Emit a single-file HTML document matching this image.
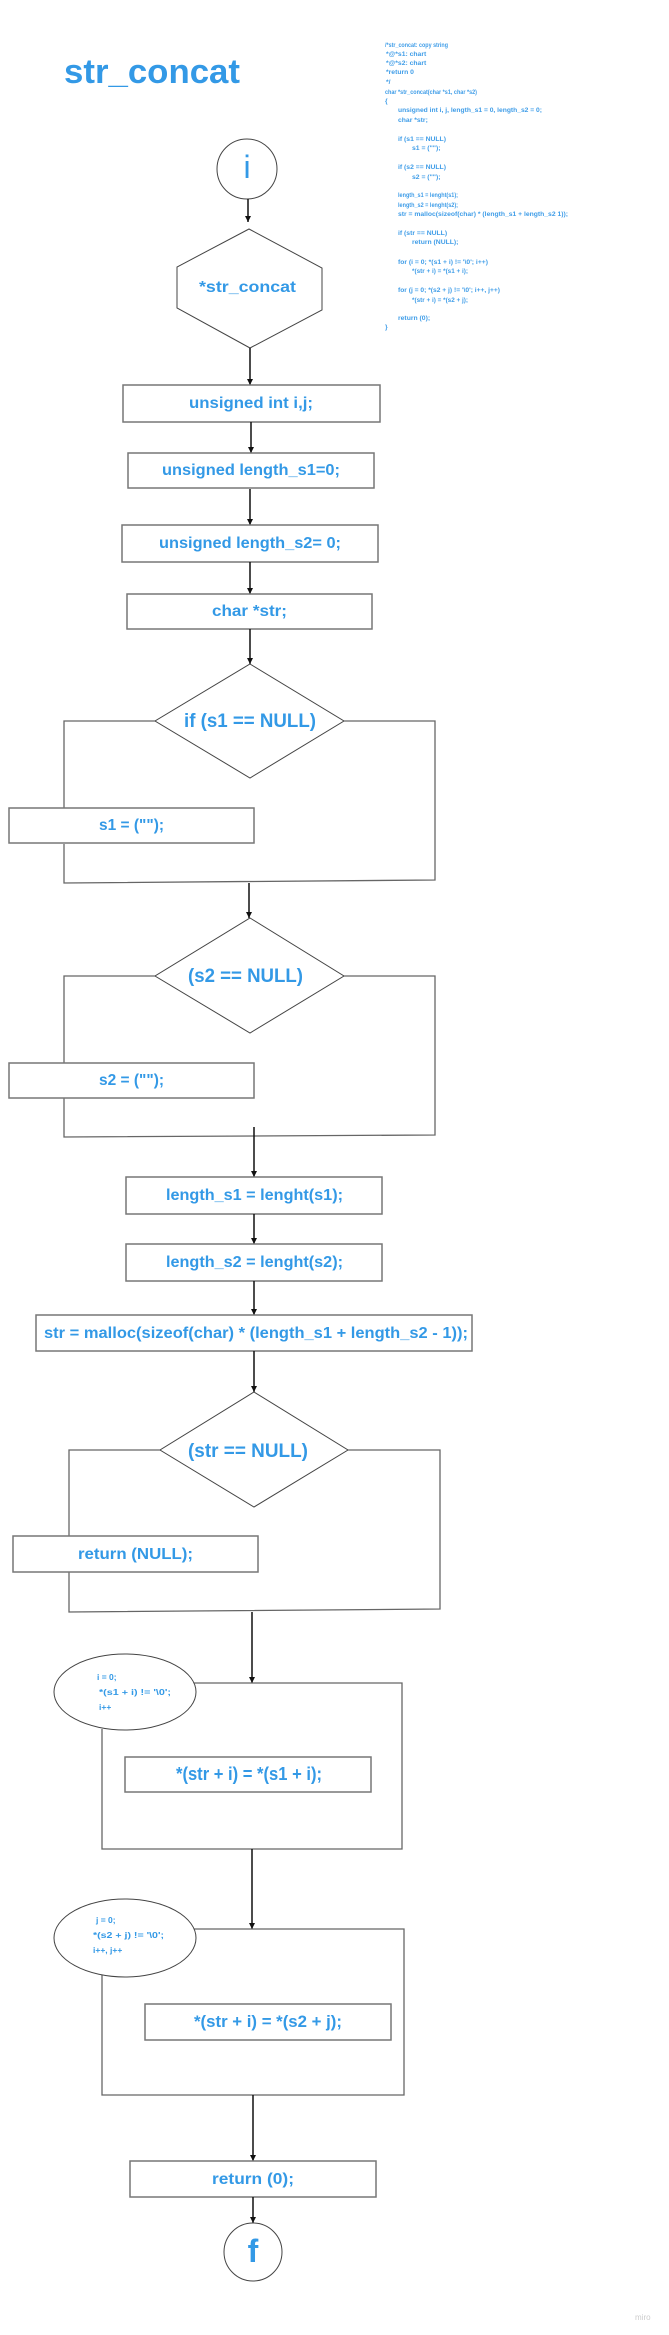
<!DOCTYPE html>
<html><head><meta charset="utf-8"><style>
html,body{margin:0;padding:0;background:#fff;}
svg{display:block;}
.t{font-family:"Liberation Sans",sans-serif;font-weight:bold;fill:#3399e6;}
.c{font-family:"Liberation Sans",sans-serif;fill:#3f9de8;font-size:6.8px;font-weight:bold;}
.b{fill:#fff;stroke:#777;stroke-width:1.5;}
.s{fill:none;stroke:#444;stroke-width:1;}
.l{fill:none;stroke:#666;stroke-width:1.3;}
.a{stroke:#111;stroke-width:1.5;}
</style></head><body>
<svg width="669" height="2335" viewBox="0 0 669 2335" xmlns="http://www.w3.org/2000/svg">
<defs><marker id="m" markerWidth="6" markerHeight="6" refX="6" refY="3" orient="auto" markerUnits="userSpaceOnUse"><path d="M0,0 L6,3 L0,6 z" fill="#111"/></marker></defs>

<text class="t" x="64" y="83" font-size="34" textLength="176" lengthAdjust="spacingAndGlyphs">str_concat</text>

<g class="c">
<text x="385" y="47" textLength="63" lengthAdjust="spacingAndGlyphs">/*str_concat: copy string</text>
<text x="386" y="56">*@*s1: chart</text>
<text x="386" y="65">*@*s2: chart</text>
<text x="386" y="74">*return 0</text>
<text x="386" y="84">*/</text>
<text x="385" y="94" textLength="92" lengthAdjust="spacingAndGlyphs">char *str_concat(char *s1, char *s2)</text>
<text x="385" y="103">{</text>
<text x="398" y="112" textLength="144" lengthAdjust="spacingAndGlyphs">unsigned int i, j, length_s1 = 0, length_s2 = 0;</text>
<text x="398" y="122">char *str;</text>
<text x="398" y="141">if (s1 == NULL)</text>
<text x="412" y="150">s1 = ("");</text>
<text x="398" y="169">if (s2 == NULL)</text>
<text x="412" y="179">s2 = ("");</text>
<text x="398" y="197" textLength="60" lengthAdjust="spacingAndGlyphs">length_s1 = lenght(s1);</text>
<text x="398" y="207" textLength="60" lengthAdjust="spacingAndGlyphs">length_s2 = lenght(s2);</text>
<text x="398" y="216" textLength="170" lengthAdjust="spacingAndGlyphs">str = malloc(sizeof(char) * (length_s1 + length_s2 1));</text>
<text x="398" y="235">if (str == NULL)</text>
<text x="412" y="244">return (NULL);</text>
<text x="398" y="264" textLength="90" lengthAdjust="spacingAndGlyphs">for (i = 0; *(s1 + i) != '\0'; i++)</text>
<text x="412" y="273" textLength="56" lengthAdjust="spacingAndGlyphs">*(str + i) = *(s1 + i);</text>
<text x="398" y="292" textLength="102" lengthAdjust="spacingAndGlyphs">for (j = 0; *(s2 + j) != '\0'; i++, j++)</text>
<text x="412" y="302" textLength="56" lengthAdjust="spacingAndGlyphs">*(str + i) = *(s2 + j);</text>
<text x="398" y="320">return (0);</text>
<text x="385" y="329">}</text>
</g>

<circle class="s" cx="247" cy="169" r="30"/>
<text x="247" y="178" font-family="Liberation Sans,sans-serif" font-size="32" fill="#3399e6" text-anchor="middle">i</text>
<line class="a" x1="248" y1="199" x2="248" y2="222" marker-end="url(#m)"/>
<polygon class="s" points="249,229 322,268 322,310 250,348 177,308 177,267"/>
<text class="t" x="199" y="292" font-size="16" textLength="97" lengthAdjust="spacingAndGlyphs">*str_concat</text>
<line class="a" x1="250" y1="348" x2="250" y2="385" marker-end="url(#m)"/>

<rect class="b" x="123" y="385" width="257" height="37"/>
<text class="t" x="189" y="408" font-size="16" textLength="124" lengthAdjust="spacingAndGlyphs">unsigned int i,j;</text>
<line class="a" x1="251" y1="422" x2="251" y2="453" marker-end="url(#m)"/>
<rect class="b" x="128" y="453" width="246" height="35"/>
<text class="t" x="162" y="475" font-size="16" textLength="178" lengthAdjust="spacingAndGlyphs">unsigned length_s1=0;</text>
<line class="a" x1="250" y1="489" x2="250" y2="525" marker-end="url(#m)"/>
<rect class="b" x="122" y="525" width="256" height="37"/>
<text class="t" x="159" y="548" font-size="16" textLength="182" lengthAdjust="spacingAndGlyphs">unsigned length_s2= 0;</text>
<line class="a" x1="250" y1="562" x2="250" y2="594" marker-end="url(#m)"/>
<rect class="b" x="127" y="594" width="245" height="35"/>
<text class="t" x="212" y="616" font-size="16" textLength="75" lengthAdjust="spacingAndGlyphs">char *str;</text>
<line class="a" x1="250" y1="629" x2="250" y2="664" marker-end="url(#m)"/>

<polygon class="s" points="250,664 344,721 250,778 155,721"/>
<text class="t" x="184" y="727" font-size="19" textLength="132" lengthAdjust="spacingAndGlyphs">if (s1 == NULL)</text>
<polyline class="l" points="155,721 64,721 64,808"/>
<polyline class="l" points="344,721 435,721 435,880 64,883 64,844"/>
<rect class="b" x="9" y="808" width="245" height="35"/>
<text class="t" x="99" y="830" font-size="16" textLength="65" lengthAdjust="spacingAndGlyphs">s1 = ("");</text>
<line class="a" x1="249" y1="883" x2="249" y2="918" marker-end="url(#m)"/>

<polygon class="s" points="250,918 344,976 250,1033 155,976"/>
<text class="t" x="188" y="982" font-size="19" textLength="115" lengthAdjust="spacingAndGlyphs">(s2 == NULL)</text>
<polyline class="l" points="155,976 64,976 64,1063"/>
<polyline class="l" points="344,976 435,976 435,1135 64,1137 64,1098"/>
<rect class="b" x="9" y="1063" width="245" height="35"/>
<text class="t" x="99" y="1085" font-size="16" textLength="65" lengthAdjust="spacingAndGlyphs">s2 = ("");</text>
<line class="a" x1="254" y1="1127" x2="254" y2="1177" marker-end="url(#m)"/>

<rect class="b" x="126" y="1177" width="256" height="37"/>
<text class="t" x="166" y="1200" font-size="16" textLength="177" lengthAdjust="spacingAndGlyphs">length_s1 = lenght(s1);</text>
<line class="a" x1="254" y1="1214" x2="254" y2="1244" marker-end="url(#m)"/>
<rect class="b" x="126" y="1244" width="256" height="37"/>
<text class="t" x="166" y="1267" font-size="16" textLength="177" lengthAdjust="spacingAndGlyphs">length_s2 = lenght(s2);</text>
<line class="a" x1="254" y1="1281" x2="254" y2="1315" marker-end="url(#m)"/>
<rect class="b" x="36" y="1315" width="436" height="36"/>
<text class="t" x="44" y="1338" font-size="16" textLength="424" lengthAdjust="spacingAndGlyphs">str = malloc(sizeof(char) * (length_s1 + length_s2 - 1));</text>
<line class="a" x1="254" y1="1351" x2="254" y2="1392" marker-end="url(#m)"/>

<polygon class="s" points="254,1392 348,1450 254,1507 160,1450"/>
<text class="t" x="188" y="1457" font-size="19" textLength="120" lengthAdjust="spacingAndGlyphs">(str == NULL)</text>
<polyline class="l" points="160,1450 69,1450 69,1536"/>
<polyline class="l" points="348,1450 440,1450 440,1609 69,1612 69,1572"/>
<rect class="b" x="13" y="1536" width="245" height="36"/>
<text class="t" x="78" y="1559" font-size="16" textLength="115" lengthAdjust="spacingAndGlyphs">return (NULL);</text>
<line class="a" x1="252" y1="1612" x2="252" y2="1683" marker-end="url(#m)"/>

<polyline class="l" points="194,1683 402,1683 402,1849 102,1849 102,1729"/>
<ellipse class="s" cx="125" cy="1692" rx="71" ry="38"/>
<g class="t" font-size="8.5">
<text x="97" y="1680">i = 0;</text>
<text x="99" y="1695" textLength="72" lengthAdjust="spacingAndGlyphs">*(s1 + i) != '\0';</text>
<text x="99" y="1710">i++</text>
</g>
<rect class="b" x="125" y="1757" width="246" height="35"/>
<text class="t" x="176" y="1780" font-size="18" textLength="146" lengthAdjust="spacingAndGlyphs">*(str + i) = *(s1 + i);</text>
<line class="a" x1="252" y1="1849" x2="252" y2="1929" marker-end="url(#m)"/>

<polyline class="l" points="194,1929 404,1929 404,2095 102,2095 102,1975"/>
<ellipse class="s" cx="125" cy="1938" rx="71" ry="39"/>
<g class="t" font-size="8.5">
<text x="96" y="1923">j = 0;</text>
<text x="93" y="1938" textLength="71" lengthAdjust="spacingAndGlyphs">*(s2 + j) != '\0';</text>
<text x="93" y="1953">i++, j++</text>
</g>
<rect class="b" x="145" y="2004" width="246" height="36"/>
<text class="t" x="194" y="2027" font-size="17" textLength="148" lengthAdjust="spacingAndGlyphs">*(str + i) = *(s2 + j);</text>
<line class="a" x1="253" y1="2095" x2="253" y2="2161" marker-end="url(#m)"/>
<rect class="b" x="130" y="2161" width="246" height="36"/>
<text class="t" x="212" y="2184" font-size="16" textLength="82" lengthAdjust="spacingAndGlyphs">return (0);</text>
<line class="a" x1="253" y1="2197" x2="253" y2="2223" marker-end="url(#m)"/>
<circle class="s" cx="253" cy="2252" r="29"/>
<text class="t" x="253" y="2262" font-size="32" text-anchor="middle">f</text>

<text x="635" y="2320" font-family="Liberation Sans,sans-serif" font-size="8" fill="#ccc">miro</text>
</svg>
</body></html>
